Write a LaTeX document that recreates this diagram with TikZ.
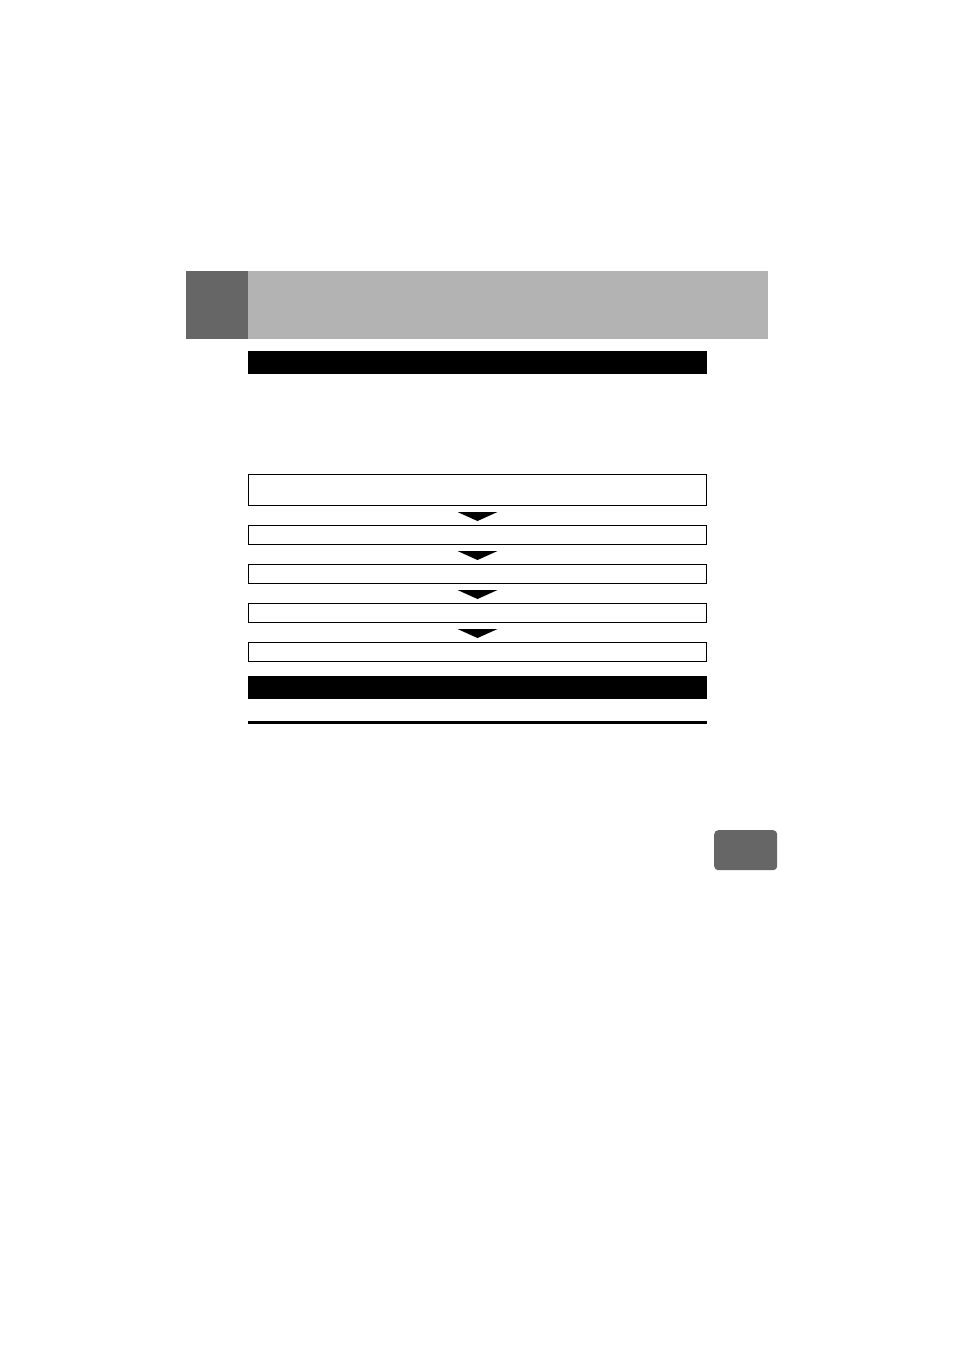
\documentclass[tikz,border=0pt]{standalone}
\usetikzlibrary{positioning, calc}
\definecolor{tabgray}{HTML}{666666}
\definecolor{bargray}{HTML}{B3B3B3}
\tikzset{
  stepbox/.style={draw, line width=1pt, inner sep=0pt, minimum width=458pt, anchor=north west},
  blackbar/.style={fill=black, inner sep=0pt, minimum width=459pt, minimum height=23pt, anchor=north west},
  downtri/.style={fill=black}
}
\begin{document}
\begin{tikzpicture}[x=1pt, y=-1pt]
\useasboundingbox (0,0) rectangle (954,1350);
% header
\node (tab) [fill=tabgray, inner sep=0pt, minimum width=62pt, minimum height=68pt, anchor=north west] at (186,271) {};
\node (head) [fill=bargray, inner sep=0pt, minimum width=520pt, minimum height=68pt, anchor=north west] at (248,271) {};
\node (bar1) [blackbar] at (248,351) {};

% flow boxes
\node (box1) [stepbox, minimum height=31pt] at (248,474) {};
\node (box2) [stepbox, minimum height=19pt] at (248,525) {};
\node (box3) [stepbox, minimum height=19pt] at (248,564) {};
\node (box4) [stepbox, minimum height=19pt] at (248,603) {};
\node (box5) [stepbox, minimum height=19pt] at (248,642) {};

\foreach \a/\b in {box1/box2, box2/box3, box3/box4, box4/box5}{
  \coordinate (m) at ($(\a.south)!0.5!(\b.north)$);
  \fill[downtri] ([shift={(-20,-3.5)}]m) -- ([shift={(20,-3.5)}]m) -- ([shift={(0,5.5)}]m) -- cycle;
}

\node (bar2) [blackbar] at (248,676) {};
\coordinate (rulel) at (248,722);
\coordinate (ruler) at (707,722);
\draw[line width=3pt] (rulel) -- (ruler);

% side tab
\node (side) [fill=tabgray, rounded corners=4pt, inner sep=0pt, minimum width=63pt, minimum height=40pt, anchor=north west] at (714,830) {};
\end{tikzpicture}
\end{document}
